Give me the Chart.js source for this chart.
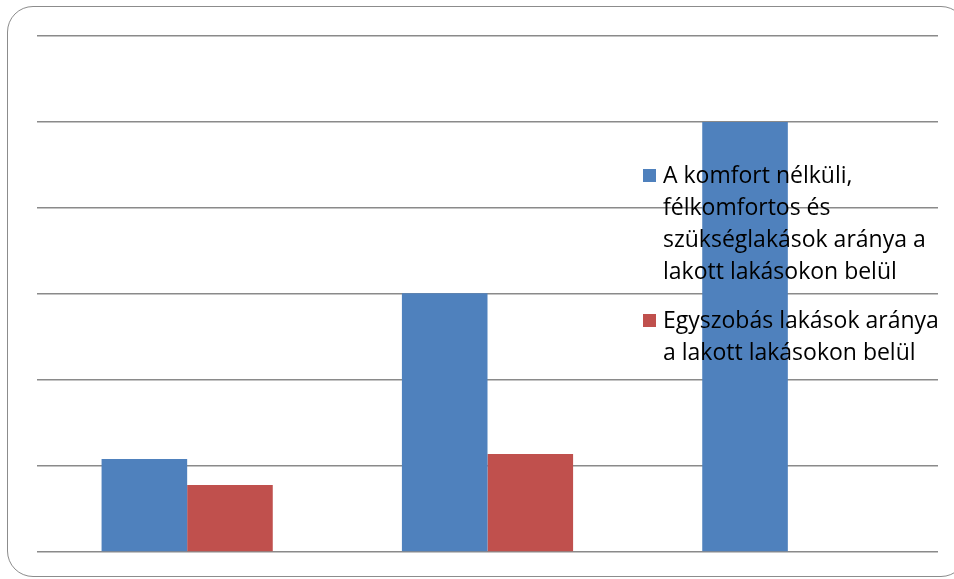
<!DOCTYPE html>
<html>
<head>
<meta charset="utf-8">
<script src="https://cdn.jsdelivr.net/npm/chart.js@4.4.0/dist/chart.umd.min.js"></script>
<style>
  html, body { margin: 0; padding: 0; background: #fff; overflow: hidden; }
  #wrap { position: relative; width: 954px; height: 579px; }
  #frame {
    position: absolute; left: 7px; top: 6px; width: 960px; height: 571px;
    border: 1.5px solid #8c8c8c; border-radius: 26px; box-sizing: border-box;
  }
  canvas { position: absolute; left: 0; top: 0; }
</style>
</head>
<body>
<div id="wrap">
  <div id="frame"></div>
  <canvas id="chart" width="954" height="579"></canvas>
</div>
<script>
// Adatok
const categories = ['1', '2', '3'];
const komfortNelkuli = [10.8, 30.1, 50.0];
const egyszobas = [7.8, 11.4, 0];
const seriesNames = [
  ['A komfort nélküli,', 'félkomfortos és', 'szükséglakások aránya a', 'lakott lakásokon belül'],
  ['Egyszobás lakások aránya', 'a lakott lakásokon belül']
];
const colors = ['#4f81bd', '#c0504d'];

// Legend drawn over the plot, like the original
const overlayLegend = {
  id: 'overlayLegend',
  afterDraw(chart) {
    const ctx = chart.ctx;
    ctx.save();
    ctx.font = '23px "Open Sans", "Liberation Sans", sans-serif';
    ctx.textBaseline = 'alphabetic';
    const tops = [183, 328];
    seriesNames.forEach((lines, i) => {
      ctx.fillStyle = colors[i];
      ctx.fillRect(643, tops[i] - 14, 13, 13);
      ctx.fillStyle = '#000';
      lines.forEach((line, j) => {
        ctx.fillText(line, 663, tops[i] + j * 32);
      });
    });
    ctx.restore();
  }
};

new Chart(document.getElementById('chart'), {
  type: 'bar',
  data: {
    labels: categories,
    datasets: [{
      label: seriesNames[0].join(' '),
      data: komfortNelkuli,
      backgroundColor: colors[0],
      barPercentage: 1,
      categoryPercentage: 0.57
    }, {
      label: seriesNames[1].join(' '),
      data: egyszobas,
      backgroundColor: colors[1],
      barPercentage: 1,
      categoryPercentage: 0.57
    }]
  },
  options: {
    responsive: false,
    animation: false,
    layout: {
      padding: { left: 37, right: 16, top: 36, bottom: 19 }
    },
    plugins: {
      legend: { display: false },
      tooltip: { enabled: false }
    },
    scales: {
      x: {
        grid: { display: false },
        border: { display: false },
        ticks: { display: false }
      },
      y: {
        min: 0,
        max: 60,
        ticks: { display: false, stepSize: 10 },
        border: { display: false },
        grid: { color: '#8a8a8a', lineWidth: 1.5, drawTicks: false }
      }
    }
  },
  plugins: [overlayLegend]
});
</script>
</body>
</html>
